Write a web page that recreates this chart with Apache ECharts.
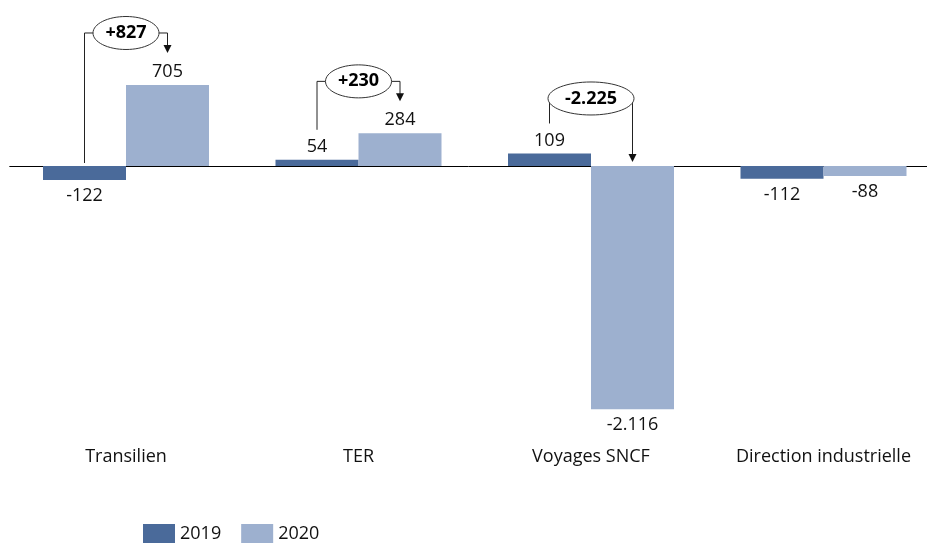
<!DOCTYPE html>
<html>
<head>
<meta charset="utf-8">
<script src="https://cdn.jsdelivr.net/npm/echarts@6/dist/echarts.min.js"></script>
<style>
html,body{margin:0;padding:0;background:#fff;}
#chart{width:927px;height:543px;}
</style>
</head>
<body>
<div id="chart"></div>
<script>
// ---- data ----
const categories = ['Transilien', 'TER', 'Voyages SNCF', 'Direction industrielle'];
const seriesNames = ['2019', '2020'];
const values2019 = [-122, 54, 109, -112];
const values2020 = [705, 284, -2116, -88];
const deltaLabels = ['+827', '+230', '-2.225'];
const deltaCategories = [0, 1, 2];

// ---- style ----
const FONT = 'Open Sans';
const C2019 = '#4A6A9A';
const C2020 = '#9DB0CF';
const BAR_W = 83;
const annotationRx = [33, 33, 43];
const annotationLift = [52, 52, 55];
const annotationRy = 16.5;

function fmt(v) {
  const s = Math.abs(v).toString().replace(/\B(?=(\d{3})+(?!\d))/g, '.');
  return (v < 0 ? '-' : '') + s;
}
function items(arr) {
  return arr.map(v => ({
    value: v,
    label: { position: v < 0 ? 'bottom' : 'top', distance: v < 0 ? 7 : 4 }
  }));
}

const chart = echarts.init(document.getElementById('chart'), null, { renderer: 'canvas' });
const k = 0.1149; // px per unit
const yMin = -2400, yMax = 1400;
const zeroY = 166;

const labelStyle = {
  show: true, formatter: p => fmt(p.value), fontFamily: FONT, fontSize: 18, color: '#111'
};

chart.setOption({
  animation: false,
  grid: { left: 9.75, width: 930, top: zeroY - yMax * k, height: (yMax - yMin) * k,
          containLabel: false, outerBoundsMode: 'none' },
  xAxis: [
    { type: 'category', data: categories, position: 'top',
      axisLine: { show: true, onZero: true, lineStyle: { color: '#000', width: 1 } },
      axisTick: { show: false }, axisLabel: { show: false } },
    { type: 'category', data: categories, position: 'bottom',
      axisLine: { show: false, onZero: false }, axisTick: { show: false },
      axisLabel: { show: true, margin: 6, fontFamily: FONT, fontSize: 18, color: '#111' } }
  ],
  yAxis: { type: 'value', min: yMin, max: yMax, show: false, splitLine: { show: false } },
  legend: {
    data: seriesNames, left: 138, top: 519, itemWidth: 32, itemHeight: 20, itemGap: 20,
    icon: 'rect', textStyle: { fontFamily: FONT, fontSize: 18, color: '#111' }
  },
  series: [
    { name: seriesNames[0], type: 'bar', data: items(values2019), barWidth: BAR_W, barGap: '0%',
      itemStyle: { color: C2019 }, label: labelStyle },
    { name: seriesNames[1], type: 'bar', data: items(values2020), barWidth: BAR_W, barGap: '0%',
      itemStyle: { color: C2020 }, label: labelStyle }
  ]
});

// ---- annotations (brackets with ellipses) ----
function px(cat, val) { return chart.convertToPixel({ seriesIndex: 0 }, [cat, val]); }
const graphics = [];
const lineStyle = { stroke: '#222', lineWidth: 1, fill: null };
deltaCategories.forEach((cat, i) => {
  const v1 = values2019[cat], v2 = values2020[cat];
  const c = px(cat, 0);
  const cx = c[0], y0 = c[1];
  const half = BAR_W / 2;
  const lx = cx - half, rxp = cx + half;
  const yTop = px(cat, Math.max(v1, v2, 0))[1] - annotationLift[i];
  const leftBottom = v1 >= 0 ? px(cat, v1)[1] - 30 : y0 - 3;
  const arrowTip = v2 >= 0 ? px(cat, v2)[1] - 32 : y0 - 4;
  const rx = annotationRx[i];
  graphics.push({ type: 'polyline', z: 100, shape: { points: [[lx, leftBottom], [lx, yTop], [cx - rx, yTop]] }, style: lineStyle });
  graphics.push({ type: 'polyline', z: 100, shape: { points: [[cx + rx, yTop], [rxp, yTop], [rxp, arrowTip - 7]] }, style: lineStyle });
  graphics.push({ type: 'polygon', z: 100, shape: { points: [[rxp - 4, arrowTip - 8], [rxp + 4, arrowTip - 8], [rxp, arrowTip]] }, style: { fill: '#111' } });
  graphics.push({ type: 'ellipse', z: 101, shape: { cx: cx, cy: yTop, rx: rx, ry: annotationRy }, style: { fill: '#fff', stroke: '#333', lineWidth: 1 } });
  graphics.push({ type: 'text', z: 102, style: { text: deltaLabels[i], x: cx, y: yTop, align: 'center', verticalAlign: 'middle', font: 'bold 18px "' + FONT + '"', fill: '#000' } });
});
chart.setOption({ graphic: graphics });
</script>
</body>
</html>
